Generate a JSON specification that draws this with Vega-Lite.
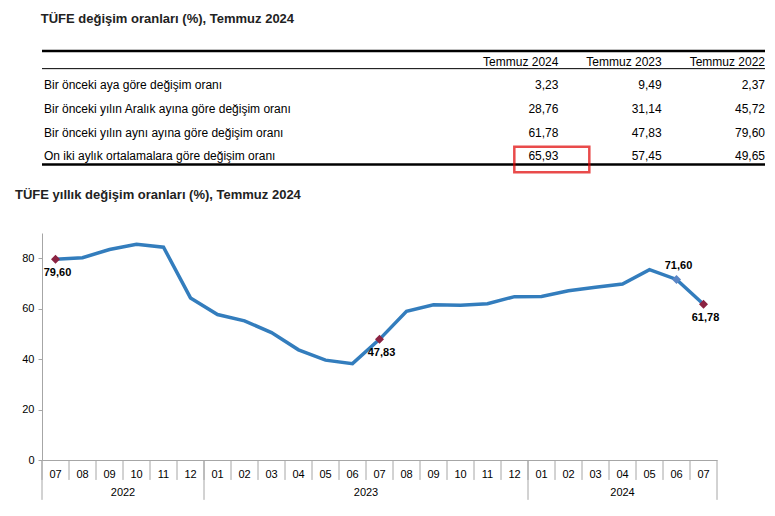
{
  "$schema": "https://vega.github.io/schema/vega-lite/v6.json",
  "padding": {"left": 15, "top": 12, "right": 5, "bottom": 0},
  "spacing": 11,
  "columns": 1,
  "align": "none",
  "config": {
    "font": "Liberation Sans",
    "view": {"stroke": null},
    "title": {"font": "Liberation Sans", "fontSize": 13, "fontWeight": "bold", "color": "#222222", "anchor": "start"},
    "axis": {"labelFont": "Liberation Sans", "labelFontSize": 11, "labelColor": "#000000", "domainColor": "#a6a6a6", "tickColor": "#a6a6a6", "grid": false}
  },
  "datasets": {
    "tablo": [
      {"satir": "r1", "sutun": "aciklama", "aciklama": "Bir önceki aya göre değişim oranı"},
      {"satir": "r2", "sutun": "aciklama", "aciklama": "Bir önceki yılın Aralık ayına göre değişim oranı"},
      {"satir": "r3", "sutun": "aciklama", "aciklama": "Bir önceki yılın aynı ayına göre değişim oranı"},
      {"satir": "r4", "sutun": "aciklama", "aciklama": "On iki aylık ortalamalara göre değişim oranı"}
    ],
    "basliklar": [
      {"satir": "baslik", "sutun": "Temmuz 2024"},
      {"satir": "baslik", "sutun": "Temmuz 2023"},
      {"satir": "baslik", "sutun": "Temmuz 2022"}
    ],
    "degerler": [
      {"satir": "r1", "sutun": "Temmuz 2024", "deger": "3,23"},
      {"satir": "r1", "sutun": "Temmuz 2023", "deger": "9,49"},
      {"satir": "r1", "sutun": "Temmuz 2022", "deger": "2,37"},
      {"satir": "r2", "sutun": "Temmuz 2024", "deger": "28,76"},
      {"satir": "r2", "sutun": "Temmuz 2023", "deger": "31,14"},
      {"satir": "r2", "sutun": "Temmuz 2022", "deger": "45,72"},
      {"satir": "r3", "sutun": "Temmuz 2024", "deger": "61,78"},
      {"satir": "r3", "sutun": "Temmuz 2023", "deger": "47,83"},
      {"satir": "r3", "sutun": "Temmuz 2022", "deger": "79,60"},
      {"satir": "r4", "sutun": "Temmuz 2024", "deger": "65,93"},
      {"satir": "r4", "sutun": "Temmuz 2023", "deger": "57,45"},
      {"satir": "r4", "sutun": "Temmuz 2022", "deger": "49,65"}
    ],
    "vurgu": [
      {"satir": "r4", "sutun": "Temmuz 2024"}
    ],
    "aylik": [
      {"ay": "2022-07", "deger": 79.60, "etiket": "79,60"},
      {"ay": "2022-08", "deger": 80.21},
      {"ay": "2022-09", "deger": 83.45},
      {"ay": "2022-10", "deger": 85.51},
      {"ay": "2022-11", "deger": 84.39},
      {"ay": "2022-12", "deger": 64.27},
      {"ay": "2023-01", "deger": 57.68},
      {"ay": "2023-02", "deger": 55.18},
      {"ay": "2023-03", "deger": 50.51},
      {"ay": "2023-04", "deger": 43.68},
      {"ay": "2023-05", "deger": 39.59},
      {"ay": "2023-06", "deger": 38.21},
      {"ay": "2023-07", "deger": 47.83, "etiket": "47,83"},
      {"ay": "2023-08", "deger": 58.94},
      {"ay": "2023-09", "deger": 61.53},
      {"ay": "2023-10", "deger": 61.36},
      {"ay": "2023-11", "deger": 61.98},
      {"ay": "2023-12", "deger": 64.77},
      {"ay": "2024-01", "deger": 64.86},
      {"ay": "2024-02", "deger": 67.07},
      {"ay": "2024-03", "deger": 68.50},
      {"ay": "2024-04", "deger": 69.80},
      {"ay": "2024-05", "deger": 75.45},
      {"ay": "2024-06", "deger": 71.60, "etiket": "71,60"},
      {"ay": "2024-07", "deger": 61.78, "etiket": "61,78"}
    ],
    "yilBaslari": [
      {"ay": "2022-07"}, {"ay": "2023-01"}, {"ay": "2024-01"}
    ],
    "yilSonu": [
      {"ay": "2024-07"}
    ],
    "yilEtiketA": [
      {"ay": "2022-10", "yil": "2022"}, {"ay": "2023-07", "yil": "2023"}
    ],
    "yilEtiketB": [
      {"ay": "2024-04", "yil": "2024"}
    ]
  },
  "concat": [
    {
      "title": {"text": "TÜFE değişim oranları (%), Temmuz 2024", "offset": 24},
      "width": 723,
      "height": 118,
      "encoding": {
        "y": {"field": "satir", "type": "ordinal", "scale": {"type": "band", "domain": ["baslik", "r1", "r2", "r3", "r4"], "paddingInner": 0, "paddingOuter": 0}, "axis": null}
      },
      "layer": [
        {
          "data": {"values": [{"satir": "baslik"}]},
          "mark": {"type": "rule", "strokeWidth": 2.5, "color": "#000000"},
          "encoding": {"y": {"field": "satir", "type": "ordinal", "bandPosition": 0.04}}
        },
        {
          "data": {"values": [{"satir": "baslik"}]},
          "mark": {"type": "rule", "strokeWidth": 1, "color": "#000000"},
          "encoding": {"y": {"field": "satir", "type": "ordinal", "bandPosition": 0.79}}
        },
        {
          "data": {"values": [{"satir": "r4"}]},
          "mark": {"type": "rule", "strokeWidth": 2.5, "color": "#000000"},
          "encoding": {"y": {"field": "satir", "type": "ordinal", "bandPosition": 0.85}}
        },
        {
          "data": {"name": "tablo"},
          "mark": {"type": "text", "align": "left", "baseline": "middle", "fontSize": 12, "dx": 2, "color": "#000000"},
          "encoding": {
            "x": {"field": "sutun", "type": "ordinal", "bandPosition": 0, "scale": {"type": "band", "domain": ["aciklama", "b1", "b2", "b3", "Temmuz 2024", "Temmuz 2023", "Temmuz 2022"], "paddingInner": 0, "paddingOuter": 0}, "axis": null},
            "y": {"field": "satir", "type": "ordinal", "bandPosition": 0.5},
            "text": {"field": "aciklama"}
          }
        },
        {
          "data": {"name": "basliklar"},
          "mark": {"type": "text", "align": "right", "baseline": "middle", "fontSize": 12, "color": "#000000"},
          "encoding": {
            "x": {"field": "sutun", "type": "ordinal", "bandPosition": 1},
            "y": {"field": "satir", "type": "ordinal", "bandPosition": 0.5},
            "text": {"field": "sutun"}
          }
        },
        {
          "data": {"name": "degerler"},
          "mark": {"type": "text", "align": "right", "baseline": "middle", "fontSize": 12, "color": "#000000"},
          "encoding": {
            "x": {"field": "sutun", "type": "ordinal", "bandPosition": 1},
            "y": {"field": "satir", "type": "ordinal", "bandPosition": 0.5},
            "text": {"field": "deger"}
          }
        },
        {
          "data": {"name": "vurgu"},
          "mark": {"type": "point", "shape": "M-1,-0.34L1,-0.34L1,0.34L-1,0.34Z", "size": 5625, "filled": false, "color": "#e00000", "strokeWidth": 2.5},
          "encoding": {
            "x": {"field": "sutun", "type": "ordinal", "bandPosition": 0.936},
            "y": {"field": "satir", "type": "ordinal", "bandPosition": 0.64}
          }
        }
      ]
    },
    {
      "title": {"text": "TÜFE yıllık değişim oranları (%), Temmuz 2024", "offset": 31},
      "width": 675,
      "height": 227,
      "layer": [
        {
          "data": {"name": "aylik"},
          "mark": {"type": "line", "color": "#337dbd", "strokeWidth": 3.5},
          "encoding": {
            "x": {"field": "ay", "type": "ordinal", "scale": {"paddingInner": 0, "paddingOuter": 0},
              "axis": {"title": null, "labelExpr": "slice(datum.value, 5)", "labelAngle": 0, "ticks": false, "labelPadding": 8}},
            "y": {"field": "deger", "type": "quantitative", "scale": {"domain": [0, 90]},
              "axis": {"title": null, "values": [0, 10, 20, 30, 40, 50, 60, 70, 80, 90], "labelOverlap": false, "tickSize": 4, "labelPadding": 4, "minExtent": 27, "maxExtent": 27}}
          }
        },
        {
          "data": {"name": "aylik"},
          "mark": {"type": "rule", "color": "#a6a6a6", "strokeWidth": 1},
          "encoding": {
            "x": {"field": "ay", "type": "ordinal", "bandPosition": 0},
            "y": {"datum": 0, "type": "quantitative"},
            "y2": {"datum": -7.9}
          }
        },
        {
          "data": {"name": "aylik"},
          "transform": [{"filter": {"field": "ay", "oneOf": ["2022-07", "2023-07", "2024-07"]}}],
          "mark": {"type": "point", "shape": "diamond", "filled": true, "size": 81, "color": "#8b2342", "opacity": 1},
          "encoding": {
            "x": {"field": "ay", "type": "ordinal"},
            "y": {"field": "deger", "type": "quantitative"}
          }
        },
        {
          "data": {"name": "aylik"},
          "transform": [{"filter": {"field": "ay", "equal": "2024-06"}}],
          "mark": {"type": "point", "shape": "diamond", "filled": true, "size": 81, "color": "#5a86c5", "opacity": 1},
          "encoding": {
            "x": {"field": "ay", "type": "ordinal"},
            "y": {"field": "deger", "type": "quantitative"}
          }
        },
        {
          "data": {"name": "aylik"},
          "transform": [{"filter": {"field": "ay", "oneOf": ["2022-07", "2023-07", "2024-07"]}}],
          "mark": {"type": "text", "fontSize": 11, "fontWeight": "bold", "dy": 14, "dx": 2, "color": "#000000"},
          "encoding": {
            "x": {"field": "ay", "type": "ordinal"},
            "y": {"field": "deger", "type": "quantitative"},
            "text": {"field": "etiket"}
          }
        },
        {
          "data": {"name": "aylik"},
          "transform": [{"filter": {"field": "ay", "equal": "2024-06"}}],
          "mark": {"type": "text", "fontSize": 11, "fontWeight": "bold", "dy": -13, "dx": 2, "color": "#000000"},
          "encoding": {
            "x": {"field": "ay", "type": "ordinal"},
            "y": {"field": "deger", "type": "quantitative"},
            "text": {"field": "etiket"}
          }
        },
        {
          "data": {"name": "yilBaslari"},
          "mark": {"type": "rule", "color": "#a6a6a6", "strokeWidth": 1},
          "encoding": {
            "x": {"field": "ay", "type": "ordinal", "bandPosition": 0},
            "y": {"datum": 0, "type": "quantitative"},
            "y2": {"datum": -15.8}
          }
        },
        {
          "data": {"name": "yilSonu"},
          "mark": {"type": "rule", "color": "#a6a6a6", "strokeWidth": 1},
          "encoding": {
            "x": {"field": "ay", "type": "ordinal", "bandPosition": 1},
            "y": {"datum": 0, "type": "quantitative"},
            "y2": {"datum": -15.8}
          }
        },
        {
          "data": {"name": "yilEtiketA"},
          "mark": {"type": "text", "fontSize": 11, "baseline": "middle", "color": "#000000"},
          "encoding": {
            "x": {"field": "ay", "type": "ordinal", "bandPosition": 0},
            "y": {"datum": -13, "type": "quantitative"},
            "text": {"field": "yil"}
          }
        },
        {
          "data": {"name": "yilEtiketB"},
          "mark": {"type": "text", "fontSize": 11, "baseline": "middle", "color": "#000000"},
          "encoding": {
            "x": {"field": "ay", "type": "ordinal", "bandPosition": 0.5},
            "y": {"datum": -13, "type": "quantitative"},
            "text": {"field": "yil"}
          }
        }
      ]
    }
  ]
}
